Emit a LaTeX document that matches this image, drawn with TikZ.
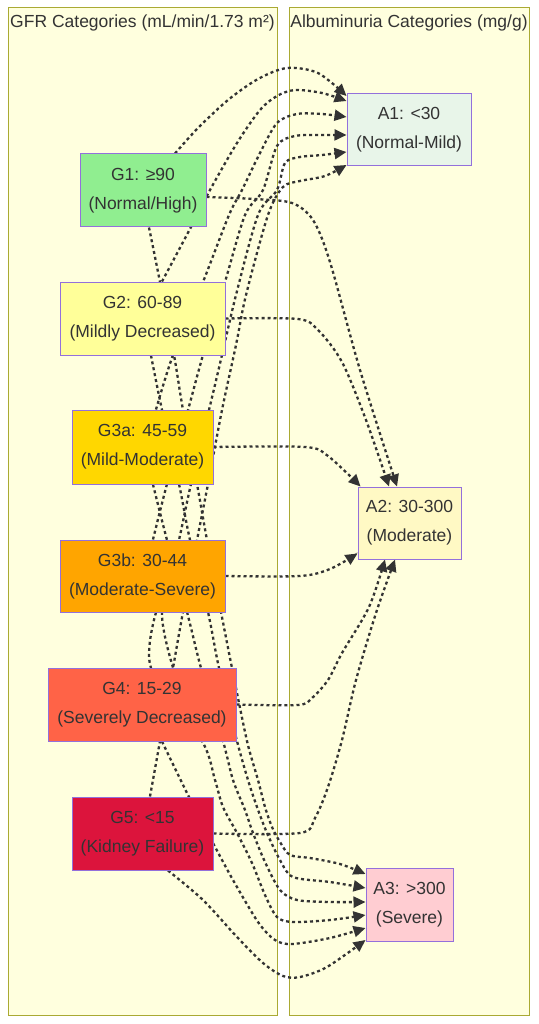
\documentclass[tikz,border=0pt]{standalone}
\usepackage{fontspec}
\setmainfont{Liberation Sans}
\usetikzlibrary{arrows.meta}
\definecolor{ink}{HTML}{333333}
\definecolor{clfill}{HTML}{FFFFDE}
\definecolor{clline}{HTML}{AAAA33}
\definecolor{nodeline}{HTML}{9370DB}
\definecolor{cg1}{HTML}{90EE90}
\definecolor{cg2}{HTML}{FFFF99}
\definecolor{cg3a}{HTML}{FFD700}
\definecolor{cg3b}{HTML}{FFA500}
\definecolor{cg4}{HTML}{FF6347}
\definecolor{cg5}{HTML}{DC143C}
\definecolor{ca1}{HTML}{E8F5E9}
\definecolor{ca2}{HTML}{FFF9C4}
\definecolor{ca3}{HTML}{FFCDD2}
\pgfdeclarelayer{back}
\pgfdeclarelayer{mid}
\pgfsetlayers{back,mid,main}
\begin{document}
\begin{tikzpicture}[x=1pt,y=-1pt,
  cluster/.style={draw=clline, fill=clfill, line width=1pt},
  cat/.style={draw=nodeline, line width=1pt, inner sep=0pt, align=center, text=ink,
    font=\fontsize{17.5}{29}\selectfont},
  link/.style={draw=ink, line width=2.3pt, dash pattern=on 3pt off 3pt,
    -{Triangle[length=12pt,width=11pt]}},
  title/.style={text=ink, font=\fontsize{17.5}{20}\selectfont, inner sep=0pt}]
\begin{pgfonlayer}{back}
\fill[white] (0,0) rectangle (538,1024);
\draw[cluster] (8,8) rectangle (277,1015);
\draw[cluster] (289,8) rectangle (529,1015);
\end{pgfonlayer}
\useasboundingbox (0,0) rectangle (538,1024);
\node[title] (t1) at (142.5,23) {GFR Categories (mL/min/1.73 m²)};
\node[title] (t2) at (409,23) {Albuminuria Categories (mg/g)};
% GFR nodes
\node[cat, fill=cg1, minimum width=126pt, minimum height=73pt] (G1) at (143,190.5) {G1: ≥90\\(Normal/High)};
\node[cat, fill=cg2, minimum width=165pt, minimum height=73pt] (G2) at (142.5,318.5) {G2: 60-89\\(Mildly Decreased)};
\node[cat, fill=cg3a, minimum width=141pt, minimum height=74pt] (G3a) at (142.5,447) {G3a: 45-59\\(Mild-Moderate)};
\node[cat, fill=cg3b, minimum width=165pt, minimum height=72pt] (G3b) at (142.5,576) {G3b: 30-44\\(Moderate-Severe)};
\node[cat, fill=cg4, minimum width=188pt, minimum height=73pt] (G4) at (142,704.5) {G4: 15-29\\(Severely Decreased)};
\node[cat, fill=cg5, minimum width=141pt, minimum height=73pt] (G5) at (142.5,833.5) {G5: <15\\(Kidney Failure)};
% Albuminuria nodes
\node[cat, fill=ca1, minimum width=124pt, minimum height=72pt] (A1) at (409,130) {A1: <30\\(Normal-Mild)};
\node[cat, fill=ca2, minimum width=103pt, minimum height=72pt] (A2) at (409.5,523) {A2: 30-300\\(Moderate)};
\node[cat, fill=ca3, minimum width=87pt, minimum height=73pt] (A3) at (409.5,904.5) {A3: >300\\(Severe)};
\begin{pgfonlayer}{mid}
% to A1
\draw[link] plot[smooth,tension=0.5] coordinates {([xshift=32pt]G1.north) (198,128) (228,100) (258,79) (287,68) (318,73) ([yshift=34pt]A1.west)};
\draw[link] plot[smooth,tension=0.5] coordinates {([xshift=19.5pt]G2.north) (191,227) (210,190) (237,143) (260,110) (277,96) (295,90) (322,93) ([yshift=29pt]A1.west)};
\draw[link] plot[smooth,tension=0.5] coordinates {([xshift=13.5pt]G3a.north) (173,355) (203,282) (229,215) (242,190) (260,153) (277,123) (297,114) (322,114) ([yshift=13pt]A1.west)};
\draw[link] plot[smooth,tension=0.5] coordinates {([xshift=10.5pt]G3b.north) (167,484) (188,410) (203,355) (225,282) (245,215) (263,190) (277,146) (295,136) (322,135) ([yshift=-5pt]A1.west)};
\draw[link] plot[smooth,tension=0.5] coordinates {([xshift=31pt]G4.north) (162,612) (179,540) (191,484) (209,410) (222,355) (236,295) (258,215) (277,190) (285,163) (300,157) (322,155) ([yshift=-22pt]A1.west)};
\draw[link] plot[smooth,tension=0.5] coordinates {([xshift=7.5pt]G5.north) (160,741) (173,668) (183,612) (197,540) (208,484) (222,410) (236,345) (246,295) (268,215) (283,187) (300,181) (325,176) ([yshift=-35pt]A1.west)};
% to A2
\draw[link] plot[smooth,tension=0.5] coordinates {([yshift=-6.5pt]G1.east) (255,199) (292,203) (313,220) (330,262) (360,370) ([xshift=-12.5pt]A2.north)};
\draw[link] plot[smooth,tension=0.5] coordinates {(G2.east) (298,319) (318,330) (342,362) (366,420) ([xshift=-20.5pt]A2.north)};
\draw[link] plot[smooth,tension=0.5] coordinates {(G3a.east) (305,447) (328,456) ([xshift=3pt]A2.north west)};
\draw[link] plot[smooth,tension=0.5] coordinates {(G3b.east) (300,576) (330,569) ([yshift=6pt]A2.south west)};
\draw[link] plot[smooth,tension=0.5] coordinates {(G4.east) (298,705) (312,698) (328,680) (342,653) (369,607) ([xshift=-24.5pt]A2.south)};
\draw[link] plot[smooth,tension=0.5] coordinates {(G5.east) (300,833) (315,818) (328,787) (342,740) (356,680) (376,613) ([xshift=-14.5pt]A2.south)};
% to A3
\draw[link] plot[smooth,tension=0.5] coordinates {([xshift=6pt]G1.south) (160,282) (174,355) (183,410) (197,484) (207,540) (221,612) (232,668) (247,741) (258,780) (265,807) (272,827) (280,842) (290,855) (310,858) (340,864) ([yshift=30.5pt]A3.west)};
\draw[link] plot[smooth,tension=0.5] coordinates {([xshift=8.5pt]G2.south) (162,410) (179,484) (190,540) (208,612) (219,668) (237,741) (248,780) (257,807) (267,833) (280,860) (293,877) (330,882) ([yshift=16.5pt]A3.west)};
\draw[link] plot[smooth,tension=0.5] coordinates {([xshift=10.5pt]G3a.south) (167,540) (187,612) (201,668) (223,741) (233,780) (245,810) (253,833) (265,862) (280,890) (297,900) (330,902) ([yshift=2.5pt]A3.west)};
\draw[link] plot[smooth,tension=0.5] coordinates {([xshift=13.5pt]G3b.south) (151,668) (202,741) (215,780) (223,807) (237,833) (252,863) (265,895) (277,917) (293,922) (330,920) ([yshift=-10.5pt]A3.west)};
\draw[link] plot[smooth,tension=0.5] coordinates {([xshift=20pt]G4.south) (189,797) (213,843) (233,880) (258,922) (275,940) (292,944) (330,938) ([yshift=-23.5pt]A3.west)};
\draw[link] plot[smooth,tension=0.5] coordinates {([xshift=25.5pt]G5.south) (203,900) (237,937) (263,963) (283,976) (300,977) (327,967) ([yshift=-35.5pt]A3.west)};
\end{pgfonlayer}
\end{tikzpicture}
\end{document}
